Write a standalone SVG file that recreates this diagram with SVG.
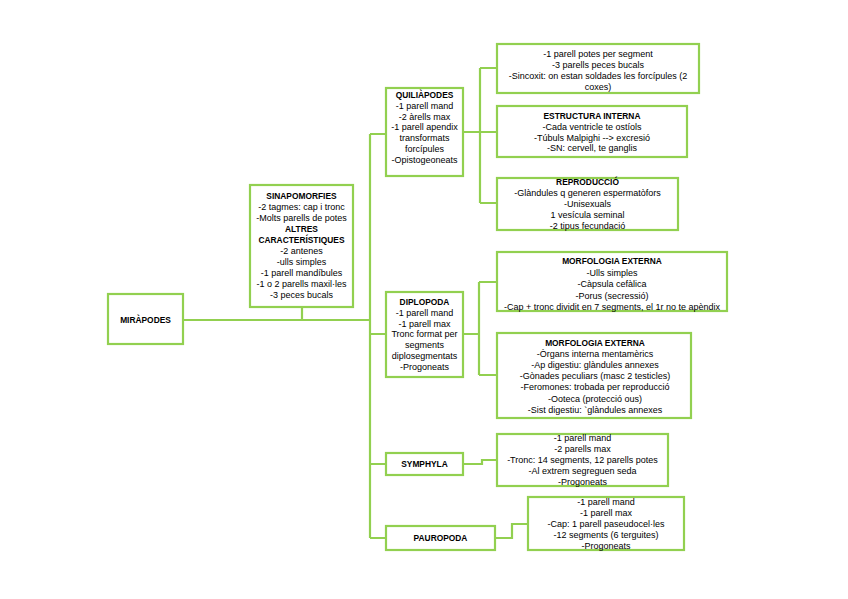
<svg xmlns="http://www.w3.org/2000/svg" width="848" height="599" viewBox="0 0 848 599">
<style>
.b{fill:#fff;stroke:#92D050;stroke-width:2.2}
.c{fill:none;stroke:#92D050;stroke-width:2.2}
text{font-family:"Liberation Sans",Arial,sans-serif;font-size:9px;fill:#000;text-anchor:middle}
.h{font-weight:bold;font-size:8.4px}
</style>
<rect width="848" height="599" fill="#fff"/>
<g id="connectors">
<path class="c" d="M183 320H370M302 307V320M370 134V538M370 134H386M370 334H386M370 464H386M370 538H386"/>
<path class="c" d="M463 132H480M480 68V203M480 68H497M480 132H497M480 203H497"/>
<path class="c" d="M463 334H479M479 282V375M479 282H497M479 375H497"/>
<path class="c" d="M463 464H482V460H497"/>
<path class="c" d="M495 538H512V524H528"/>
</g>
<g id="miropodes">
<rect class="b" x="108" y="294" width="75" height="50"/>
<text class="h" x="145.5" y="323">MIRÀPODES</text>
</g>
<g id="sinapomorfies">
<rect class="b" x="250" y="185" width="103" height="122"/>
<text x="301.5" y="199"><tspan class="h">SINAPOMORFIES</tspan><tspan x="301.5" dy="11">-2 tagmes: cap i tronc</tspan><tspan x="301.5" dy="11">-Molts parells de potes</tspan><tspan x="301.5" dy="11" class="h">ALTRES</tspan><tspan x="301.5" dy="11" class="h">CARACTERÍSTIQUES</tspan><tspan x="301.5" dy="11">-2 antenes</tspan><tspan x="301.5" dy="11">-ulls simples</tspan><tspan x="301.5" dy="11">-1 parell mandíbules</tspan><tspan x="301.5" dy="11">-1 o 2 parells maxil·les</tspan><tspan x="301.5" dy="11">-3 peces bucals</tspan></text>
</g>
<g id="quiliapodes">
<rect class="b" x="386" y="88" width="77" height="88"/>
<text x="424.5" y="98"><tspan class="h">QUILIÀPODES</tspan><tspan x="424.5" dy="10.8">-1 parell mand</tspan><tspan x="424.5" dy="10.8">-2 àrells max</tspan><tspan x="424.5" dy="10.8">-1 parell apendix</tspan><tspan x="424.5" dy="10.8">transformats</tspan><tspan x="424.5" dy="10.8">forcípules</tspan><tspan x="424.5" dy="10.8">-Opistogeoneats</tspan></text>
</g>
<g id="q1">
<rect class="b" x="497" y="44" width="202" height="49"/>
<text x="598" y="57"><tspan>-1 parell potes per segment</tspan><tspan x="598" dy="11">-3 parells peces bucals</tspan><tspan x="598" dy="11">-Sincoxit: on estan soldades les forcípules (2</tspan><tspan x="598" dy="11">coxes)</tspan></text>
</g>
<g id="q2">
<rect class="b" x="497" y="106" width="190" height="51"/>
<text x="592" y="119"><tspan class="h">ESTRUCTURA INTERNA</tspan><tspan x="592" dy="10.8">-Cada ventricle te ostíols</tspan><tspan x="592" dy="10.8">-Túbuls Malpighi --&gt; excresió</tspan><tspan x="592" dy="10.8">-SN: cervell, te ganglis</tspan></text>
</g>
<g id="q3">
<rect class="b" x="497" y="178" width="181" height="52"/>
<text x="587.5" y="185"><tspan class="h">REPRODUCCIÓ</tspan><tspan x="587.5" dy="11">-Glàndules q generen espermatòfors</tspan><tspan x="587.5" dy="11">-Unisexuals</tspan><tspan x="587.5" dy="11">1 vesícula seminal</tspan><tspan x="587.5" dy="11">-2 tipus fecundació</tspan></text>
</g>
<g id="diplopoda">
<rect class="b" x="386" y="292" width="77" height="85"/>
<text x="424.5" y="305"><tspan class="h">DIPLOPODA</tspan><tspan x="424.5" dy="10.8">-1 parell mand</tspan><tspan x="424.5" dy="10.8">-1 parell max</tspan><tspan x="424.5" dy="10.8">Tronc format per</tspan><tspan x="424.5" dy="10.8">segments</tspan><tspan x="424.5" dy="10.8">diplosegmentats</tspan><tspan x="424.5" dy="10.8">-Progoneats</tspan></text>
</g>
<g id="d1">
<rect class="b" x="497" y="252" width="230" height="59"/>
<text x="612" y="264"><tspan class="h">MORFOLOGIA EXTERNA</tspan><tspan x="612" dy="11.5">-Ulls simples</tspan><tspan x="612" dy="11.5">-Càpsula cefàlica</tspan><tspan x="612" dy="11.5">-Porus (secressió)</tspan><tspan x="612" dy="11.5">-Cap + tronc dividit en 7 segments, el 1r no te apèndix</tspan></text>
</g>
<g id="d2">
<rect class="b" x="497" y="333" width="194" height="85"/>
<text x="595" y="346"><tspan class="h">MORFOLOGIA EXTERNA</tspan><tspan x="595" dy="11.1">-Òrgans interna mentamèrics</tspan><tspan x="595" dy="11.1">-Ap digestiu: glàndules annexes</tspan><tspan x="595" dy="11.1">-Gònades peculiars (masc 2 testicles)</tspan><tspan x="595" dy="11.1">-Feromones: trobada per reproducció</tspan><tspan x="595" dy="11.1">-Ooteca (protecció ous)</tspan><tspan x="595" dy="11.1">-Sist digestiu: `glàndules annexes</tspan></text>
</g>
<g id="symphyla">
<rect class="b" x="386" y="453" width="77" height="22"/>
<text class="h" x="424.5" y="467">SYMPHYLA</text>
</g>
<g id="s1">
<rect class="b" x="497" y="434" width="171" height="52"/>
<text x="582.5" y="441"><tspan>-1 parell mand</tspan><tspan x="582.5" dy="11">-2 parells max</tspan><tspan x="582.5" dy="11">-Tronc: 14 segments, 12 parells potes</tspan><tspan x="582.5" dy="11">-Al extrem segreguen seda</tspan><tspan x="582.5" dy="11">-Progoneats</tspan></text>
</g>
<g id="pauropoda">
<rect class="b" x="386" y="526" width="109" height="24"/>
<text class="h" x="440.5" y="541">PAUROPODA</text>
</g>
<g id="p1">
<rect class="b" x="528" y="497" width="156" height="53"/>
<text x="606" y="505"><tspan>-1 parell mand</tspan><tspan x="606" dy="11">-1 parell max</tspan><tspan x="606" dy="11">-Cap: 1 parell paseudocel·les</tspan><tspan x="606" dy="11">-12 segments (6 terguites)</tspan><tspan x="606" dy="11">-Progoneats</tspan></text>
</g>
</svg>
